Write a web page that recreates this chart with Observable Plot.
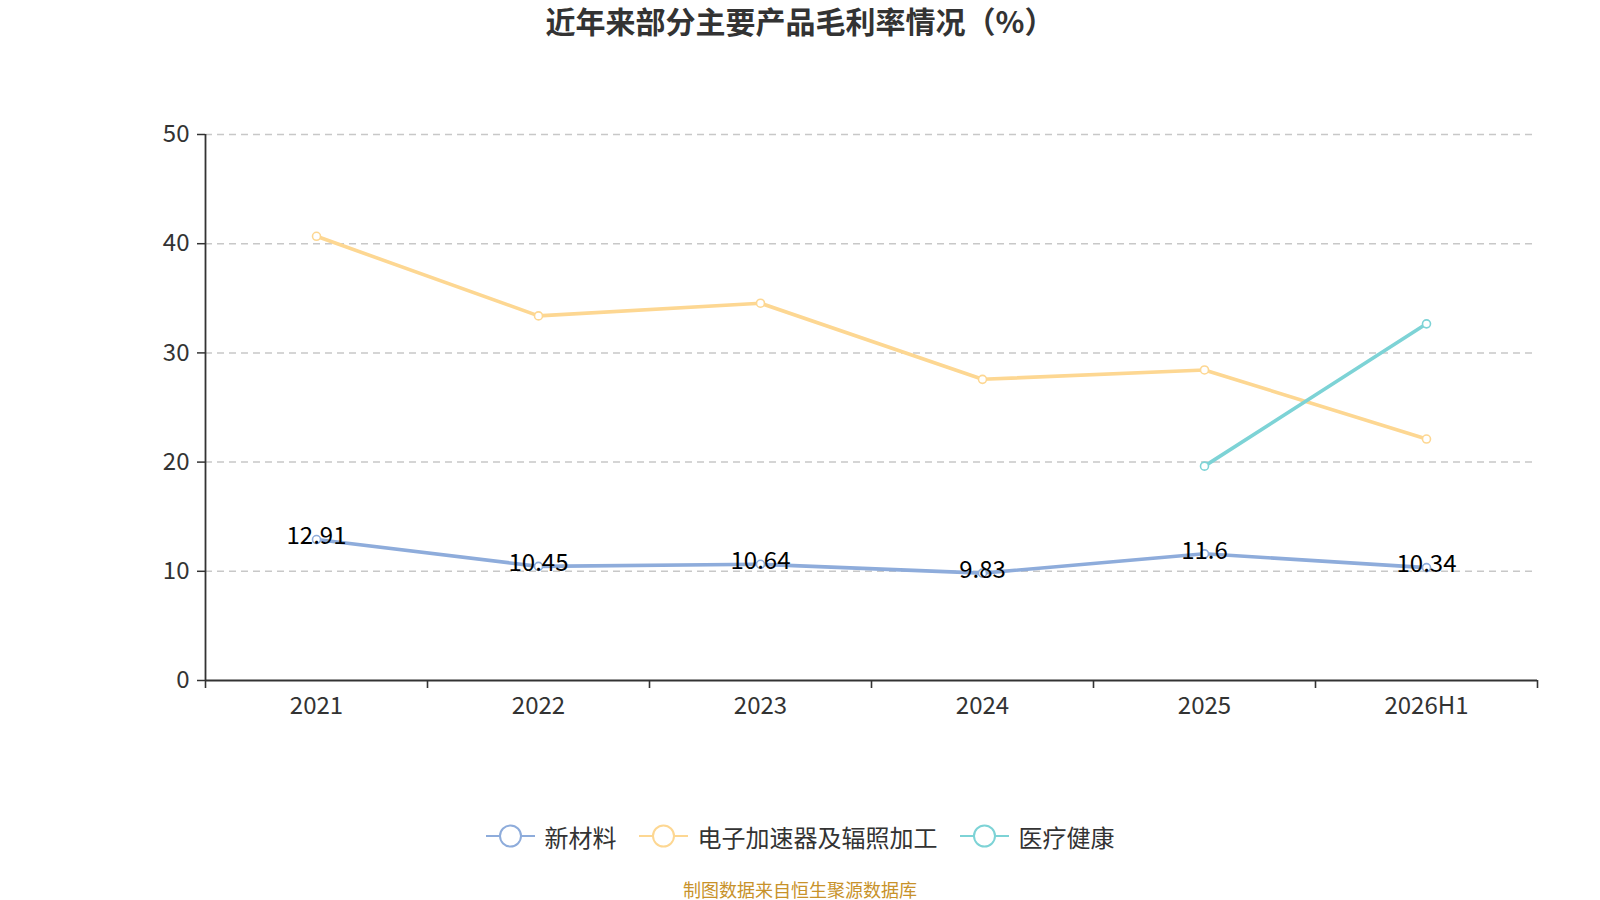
<!DOCTYPE html>
<html>
<head>
<meta charset="utf-8">
<script src="https://cdn.jsdelivr.net/npm/d3@7"></script>
<script src="https://cdn.jsdelivr.net/npm/@observablehq/plot@0.6"></script>
<style>
  html, body { margin: 0; padding: 0; background: #fff; }
  body { width: 1600px; height: 900px; overflow: hidden; font-family: "Noto Sans CJK SC", "Noto Sans", sans-serif; }
  #title { width: 1600px; height: 40px; line-height: 40px; text-align: center; font-size: 30px; font-weight: bold; color: #333; }
  #legend { width: 1600px; height: 80px; display: flex; justify-content: center; align-items: center; font-size: 24px; color: #333; }
  .item { display: flex; align-items: center; margin: 0 11px; }
  .item svg { margin-right: 10px; }
  #caption { width: 1600px; height: 26px; line-height: 26px; text-align: center; font-size: 18px; color: #c8922a; }
</style>
</head>
<body>
<div id="title">近年来部分主要产品毛利率情况（%）</div>
<div id="chart"></div>
<div id="legend"></div>
<div id="caption">制图数据来自恒生聚源数据库</div>
<script>
const categories = ["2021", "2022", "2023", "2024", "2025", "2026H1"];
const seriesNames = ["新材料", "电子加速器及辐照加工", "医疗健康"];
const seriesColors = ["#8eacdb", "#fdd792", "#7dd3d6"];
const xinCaiLiao = [12.91, 10.45, 10.64, 9.83, 11.6, 10.34];
const dianZiJiaSuQi = [40.68, 33.39, 34.55, 27.58, 28.44, 22.11];
const yiLiaoJianKang = [null, null, null, null, 19.63, 32.66];
const yTicks = [0, 10, 20, 30, 40, 50];

const seriesValues = [xinCaiLiao, dianZiJiaSuQi, yiLiaoJianKang];
const rows = seriesValues.map((vals, s) =>
  vals.map((v, i) => ({i, cat: categories[i], value: v, series: seriesNames[s]}))
);
const idx = categories.map((_, i) => i);
const bounds = [-0.5, ...idx.map(i => i + 0.5)];

const marks = [
  Plot.gridY({ticks: yTicks.slice(1), stroke: "#c8c8c8", strokeOpacity: 1, strokeDasharray: "7,5", strokeWidth: 1.5}),
  Plot.axisY({ticks: yTicks, tickSize: 8, tickPadding: 8, fontSize: 24, color: "#333", label: null, stroke: "#333", strokeWidth: 1.5}),
  Plot.axisX({ticks: idx, tickFormat: i => categories[i], tickSize: 0, tickPadding: 16, fontSize: 24, color: "#333", label: null}),
  Plot.axisX({ticks: bounds, tickFormat: () => "", tickSize: 8, stroke: "#333", strokeWidth: 1.6, label: null}),
  Plot.ruleX([-0.5], {stroke: "#333", strokeWidth: 1.8}),
  Plot.ruleY([0], {stroke: "#333", strokeWidth: 1.8})
];
[1, 0, 2].forEach(s => {
  const data = rows[s].filter(d => d.value != null);
  marks.push(Plot.line(data, {x: "i", y: "value", stroke: seriesColors[s], strokeWidth: 3.6}));
});
[1, 0, 2].forEach(s => {
  const data = rows[s].filter(d => d.value != null);
  marks.push(Plot.dot(data, {x: "i", y: "value", r: 4, fill: "#fff", stroke: seriesColors[s], strokeWidth: 1.6}));
});
marks.push(Plot.text(rows[0], {x: "i", y: "value", text: d => String(d.value), fill: "#000", fontSize: 24, dy: -3, textAnchor: "middle", lineAnchor: "middle"}));

const chart = Plot.plot({
  width: 1600,
  height: 756,
  marginTop: 94,
  marginBottom: 116,
  marginLeft: 205,
  marginRight: 63,
  style: {fontFamily: '"Noto Sans CJK SC", "Noto Sans", sans-serif', background: "#fff"},
  x: {type: "linear", domain: [-0.5, categories.length - 0.5], axis: null},
  y: {domain: [0, 50], axis: null},
  marks
});
document.getElementById("chart").appendChild(chart);

const legend = document.getElementById("legend");
seriesNames.forEach((name, s) => {
  const item = document.createElement("div");
  item.className = "item";
  item.innerHTML = `<svg width="49" height="24"><line x1="0" y1="12" x2="49" y2="12" stroke="${seriesColors[s]}" stroke-width="2"/><circle cx="24.5" cy="12" r="10.5" fill="#fff" stroke="${seriesColors[s]}" stroke-width="2"/></svg><span>${name}</span>`;
  legend.appendChild(item);
});
</script>
</body>
</html>
